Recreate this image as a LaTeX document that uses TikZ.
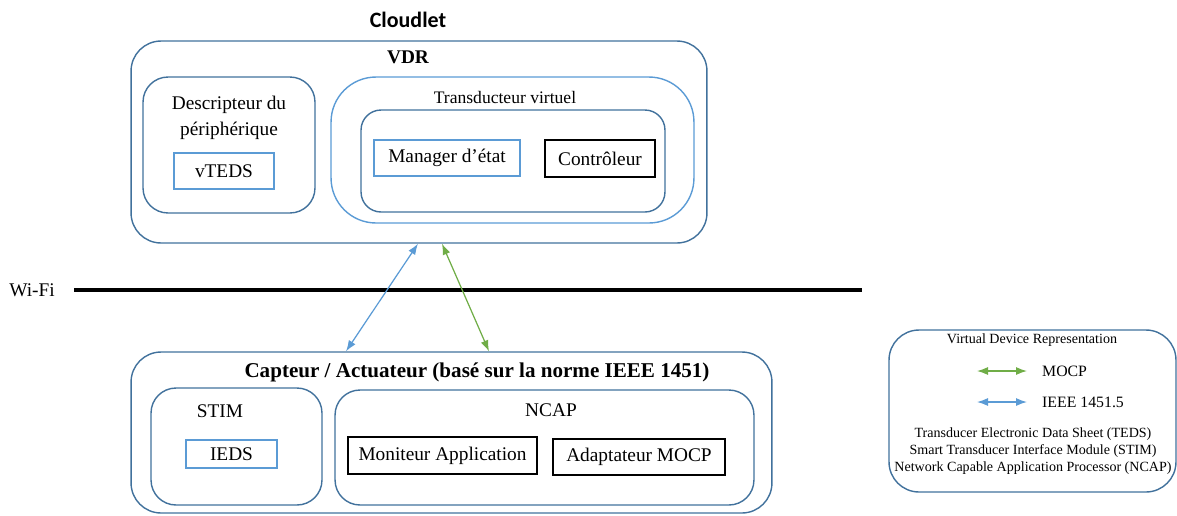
\documentclass[tikz,border=0pt]{standalone}
\usepackage{fontspec}
\setmainfont{Liberation Serif}
\newfontfamily\cloudfont{Carlito}
\usepackage{tikz}
\usetikzlibrary{arrows.meta}
\definecolor{bordbleu}{HTML}{41719C}
\definecolor{clairbleu}{HTML}{5B9BD5}
\definecolor{vertmocp}{HTML}{70AD47}

\begin{document}
\begin{tikzpicture}[x=0.02cm,y=-0.02cm,
  cadre/.style={draw=bordbleu,line width=0.8pt,rounded corners=#1},
  cadre/.default=0.5cm,
  boite/.style={draw,line width=0.7pt,inner sep=0pt,font=\fontsize{11}{13}\selectfont},
  lien/.style={line width=0.7pt,{Latex[length=2.2mm,width=1.6mm]}-{Latex[length=2.2mm,width=1.6mm]}},
  txt/.style={font=\fontsize{11}{13}\selectfont},
  petit/.style={font=\fontsize{8}{9.6}\selectfont}]
\useasboundingbox (0,0) rectangle (1177,515);

% Cloudlet
\node[font=\cloudfont\bfseries\fontsize{12.5}{15}\selectfont] (cloudlet) at (408,20) {Cloudlet};
\node[cadre=0.6cm,minimum width=11.52cm,minimum height=4.04cm] (vdr) at (419,142) {};
\node[font=\bfseries\fontsize{11}{13}\selectfont] (vdrtitre) at (408,57) {VDR};

\node[cadre,minimum width=3.44cm,minimum height=2.72cm] (desc) at (229,145) {};
\node[txt,align=center] (desctitre) at (229,118) {Descripteur du\\[2pt]périphérique};
\node[boite,draw=clairbleu,minimum width=2cm,minimum height=0.72cm] (vteds) at (224,171) {vTEDS};

\node[cadre=0.9cm,draw=clairbleu,minimum width=7.26cm,minimum height=2.92cm] (tv) at (512.5,150) {};
\node[font=\fontsize{10}{12}\selectfont] (tvtitre) at (505,97) {Transducteur virtuel};
\node[cadre=0.4cm,minimum width=6.08cm,minimum height=2.04cm] (tvin) at (513,161) {};
\node[boite,draw=clairbleu,minimum width=2.92cm,minimum height=0.72cm] (mgr) at (447,158) {Manager d’état};
\node[boite,minimum width=2.2cm,minimum height=0.74cm] (ctrl) at (600,158.5) {Contrôleur};

% Wi-Fi
\node[txt] (wifi) at (32,290) {Wi-Fi};
\coordinate (wifia) at (74,290);
\coordinate (wifib) at (862,290);
\draw[line width=2.4pt] (wifia) -- (wifib);

% Capteur / Actuateur
\node[cadre=0.6cm,minimum width=12.82cm,minimum height=3.22cm] (capteur) at (451.5,432.5) {};
\node[font=\bfseries\fontsize{12}{14}\selectfont] (captitre) at (477,372) {Capteur / Actuateur (basé sur la norme IEEE 1451)};

\node[cadre,minimum width=3.42cm,minimum height=2.34cm] (stim) at (236.5,446.5) {};
\node[txt] (stimtitre) at (220,411) {STIM};
\node[boite,draw=clairbleu,minimum width=1.82cm,minimum height=0.56cm] (ieds) at (231.5,454) {IEDS};

\node[cadre,minimum width=8.38cm,minimum height=2.3cm] (ncap) at (544.5,447.5) {};
\node[txt] (ncaptitre) at (551,410) {NCAP};
\node[boite,line width=0.6pt,minimum width=3.78cm,minimum height=0.74cm] (moni) at (442.5,455.5) {Moniteur Application};
\node[boite,line width=0.6pt,minimum width=3.44cm,minimum height=0.72cm] (adapt) at (639,457) {Adaptateur MOCP};

% liaisons
\draw[lien,clairbleu] ([xshift=-0.02cm]vdr.south) -- ([xshift=-2.11cm]capteur.north);
\draw[lien,vertmocp] ([xshift=0.46cm]vdr.south) -- ([xshift=0.75cm]capteur.north);

% legende
\node[cadre=0.6cm,minimum width=5.74cm,minimum height=3.24cm] (legende) at (1032.5,411) {};
\node[petit] (legtitre) at (1032,340) {Virtual Device Representation};
\coordinate (va) at (977,371);
\coordinate (vb) at (1027,371);
\coordinate (ba) at (977,402);
\coordinate (bb) at (1027,402);
\draw[lien,vertmocp] (va) -- (vb);
\draw[lien,clairbleu] (ba) -- (bb);
\node[font=\fontsize{9}{11}\selectfont,anchor=west] (mocp) at (1036,371) {MOCP};
\node[font=\fontsize{9}{11}\selectfont,anchor=west] (ieee) at (1036,402) {IEEE 1451.5};
\node[petit] (teds) at (1033,434) {Transducer Electronic Data Sheet (TEDS)};
\node[petit] (stimdef) at (1033,451) {Smart Transducer Interface Module (STIM)};
\node[petit] (ncapdef) at (1033,468) {Network Capable Application Processor (NCAP)};
\end{tikzpicture}
\end{document}
